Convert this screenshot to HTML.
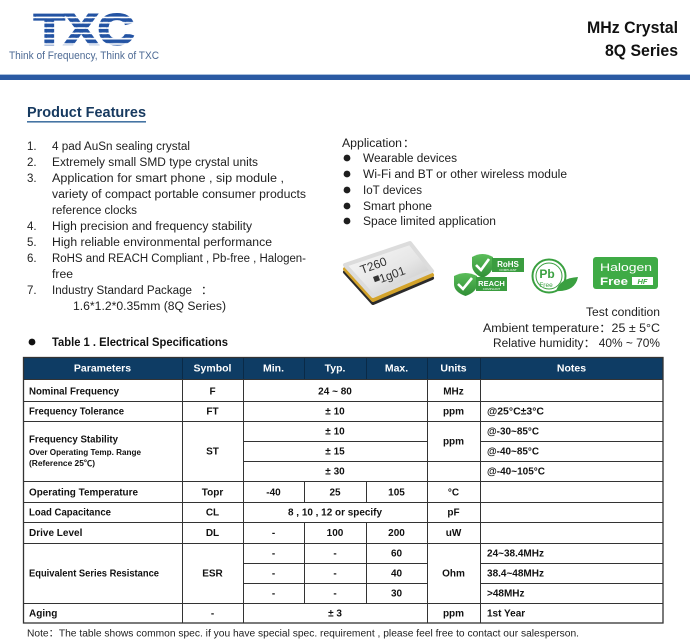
<!DOCTYPE html>
<html><head><meta charset="utf-8"><style>
html,body{margin:0;padding:0;background:#fff;width:690px;height:644px;overflow:hidden}
svg{display:block}
text{font-family:"Liberation Sans","Noto Sans CJK SC","DejaVu Sans",sans-serif}
</style></head><body>
<svg width="690" height="644" viewBox="0 0 690 644" xmlns="http://www.w3.org/2000/svg">
<defs>
<pattern id="st" patternUnits="userSpaceOnUse" x="0" y="13" width="20" height="5.3"><rect width="20" height="3.6" fill="#2353a3"/></pattern>
<linearGradient id="cg" x1="0" y1="0" x2="1" y2="1"><stop offset="0" stop-color="#fbfbfb"/><stop offset="0.55" stop-color="#e6e6e6"/><stop offset="1" stop-color="#bdbdbd"/></linearGradient>
<linearGradient id="gd" x1="0" y1="0" x2="0" y2="1"><stop offset="0" stop-color="#5bbd5a"/><stop offset="1" stop-color="#2f8f36"/></linearGradient>
</defs>

<!-- Logo -->
<text x="34" y="44" font-size="43" font-weight="bold" fill="url(#st)" stroke="url(#st)" stroke-width="2.2" textLength="100" lengthAdjust="spacingAndGlyphs">TXC</text>
<text x="9" y="59" font-size="11" fill="#4d6a94" textLength="150" lengthAdjust="spacingAndGlyphs">Think of Frequency, Think of TXC</text>

<!-- Title -->
<text x="678" y="33" font-size="17" font-weight="bold" fill="#111" text-anchor="end" textLength="91" lengthAdjust="spacingAndGlyphs">MHz Crystal</text>
<text x="678" y="56" font-size="17" font-weight="bold" fill="#111" text-anchor="end" textLength="73" lengthAdjust="spacingAndGlyphs">8Q Series</text>

<!-- Blue rule -->
<rect x="0" y="74" width="690" height="1" fill="#a9bfdc"/>
<rect x="0" y="75" width="690" height="5" fill="#2b5aa3"/>

<!-- Product Features -->
<text x="27" y="117" font-size="15" font-weight="bold" fill="#173a60" textLength="119" lengthAdjust="spacingAndGlyphs">Product Features</text>
<rect x="27" y="121" width="119" height="1.6" fill="#4574a3"/>

<!-- Feature list -->
<g font-size="11.5" fill="#1e1e1e">
<text x="27" y="150">1.</text><text x="52" y="150" textLength="138" lengthAdjust="spacingAndGlyphs">4 pad AuSn sealing crystal</text>
<text x="27" y="166">2.</text><text x="52" y="166" textLength="206" lengthAdjust="spacingAndGlyphs">Extremely small SMD type crystal units</text>
<text x="27" y="182">3.</text><text x="52" y="182" textLength="232" lengthAdjust="spacingAndGlyphs">Application for smart phone , sip module ,</text>
<text x="52" y="198" textLength="254" lengthAdjust="spacingAndGlyphs">variety of compact portable consumer products</text>
<text x="52" y="214" textLength="85" lengthAdjust="spacingAndGlyphs">reference clocks</text>
<text x="27" y="230">4.</text><text x="52" y="230" textLength="200" lengthAdjust="spacingAndGlyphs">High precision and frequency stability</text>
<text x="27" y="246">5.</text><text x="52" y="246" textLength="220" lengthAdjust="spacingAndGlyphs">High reliable environmental performance</text>
<text x="27" y="262">6.</text><text x="52" y="262" textLength="254" lengthAdjust="spacingAndGlyphs">RoHS and REACH Compliant , Pb-free , Halogen-</text>
<text x="52" y="278" textLength="21" lengthAdjust="spacingAndGlyphs">free</text>
<text x="27" y="294">7.</text><text x="52" y="294" textLength="140" lengthAdjust="spacingAndGlyphs">Industry Standard Package</text><text x="201" y="294">：</text>
<text x="73" y="310" textLength="153" lengthAdjust="spacingAndGlyphs">1.6*1.2*0.35mm (8Q Series)</text>
</g>

<!-- Table title -->
<circle cx="32" cy="342" r="3.4" fill="#111"/>
<text x="52" y="346" font-size="11.5" font-weight="bold" fill="#111" textLength="176" lengthAdjust="spacingAndGlyphs">Table 1 . Electrical Specifications</text>

<!-- Application -->
<g font-size="11.5" fill="#1e1e1e">
<text x="342" y="147" textLength="60" lengthAdjust="spacingAndGlyphs">Application</text><text x="403" y="147">：</text>
<circle cx="347" cy="158" r="3.4"/><text x="363" y="162" textLength="94" lengthAdjust="spacingAndGlyphs">Wearable devices</text>
<circle cx="347" cy="174" r="3.4"/><text x="363" y="178" textLength="204" lengthAdjust="spacingAndGlyphs">Wi-Fi and BT or other wireless module</text>
<circle cx="347" cy="190" r="3.4"/><text x="363" y="194" textLength="59" lengthAdjust="spacingAndGlyphs">IoT devices</text>
<circle cx="347" cy="206" r="3.4"/><text x="363" y="210" textLength="69" lengthAdjust="spacingAndGlyphs">Smart phone</text>
<circle cx="347" cy="221" r="3.4"/><text x="363" y="225" textLength="133" lengthAdjust="spacingAndGlyphs">Space limited application</text>
</g>

<!-- Crystal image -->
<g stroke-linejoin="round">
<polygon points="345,272 410,250 432,278 373,303" fill="#2b2b2b" stroke="#2b2b2b" stroke-width="4"/>
<polygon points="345,269 410,247 432,275 373,300" fill="#d3a32b" stroke="#d3a32b" stroke-width="4"/>
<polygon points="345,265 410,243 432,271 373,296" fill="url(#cg)" stroke="#dcdcdc" stroke-width="4"/>
</g>
<text x="0" y="0" font-size="12" fill="#333" transform="translate(362,274) rotate(-20)">T260</text>
<rect x="0" y="0" width="5.5" height="5.5" fill="#333" transform="translate(373,277) rotate(-20)"/>
<text x="0" y="0" font-size="12" fill="#333" transform="translate(381,283) rotate(-20)">1g01</text>

<!-- RoHS / REACH -->
<path d="M472,257 Q482.5,251 493,257 L493,265 Q493,273 482.5,278 Q472,273 472,265 Z" fill="url(#gd)"/>
<path d="M476,265 L481,270 L489,259" fill="none" stroke="#fff" stroke-width="2.6"/>
<rect x="492" y="258" width="32" height="14" fill="#3a9d3f"/>
<text x="508" y="267" font-size="8" font-weight="bold" fill="#fff" text-anchor="middle">RoHS</text>
<text x="508" y="271" font-size="3" fill="#fff" text-anchor="middle">COMPLIANT</text>
<path d="M454,276 Q465.5,270 477,276 L477,284 Q477,292 465.5,296 Q454,292 454,284 Z" fill="url(#gd)"/>
<path d="M458,284 L463,289 L472,278" fill="none" stroke="#fff" stroke-width="2.6"/>
<rect x="476" y="277" width="31" height="14" fill="#3a9d3f"/>
<text x="491.5" y="286" font-size="7.5" font-weight="bold" fill="#fff" text-anchor="middle">REACH</text>
<text x="491.5" y="290" font-size="3" fill="#fff" text-anchor="middle">COMPLIANT</text>

<!-- Pb free -->
<circle cx="549" cy="276" r="16.5" fill="#fff" stroke="#3aa040" stroke-width="2"/>
<circle cx="549" cy="276" r="13" fill="none" stroke="#3aa040" stroke-width="1"/>
<text x="547" y="278" font-size="12" font-weight="bold" fill="#3aa040" text-anchor="middle">Pb</text>
<text x="546" y="287" font-size="6.5" fill="#3aa040" text-anchor="middle">Free</text>
<path d="M556,291 Q560,278 578,277 Q575,292 556,291 Z" fill="#3aa040"/>

<!-- Halogen free -->
<rect x="593" y="257" width="65" height="32" rx="3" fill="#3fab46"/>
<text x="600" y="271" font-size="11" fill="#fff" textLength="52" lengthAdjust="spacingAndGlyphs">Halogen</text>
<text x="600" y="285" font-size="11" font-weight="bold" fill="#fff" textLength="28" lengthAdjust="spacingAndGlyphs">Free</text>
<rect x="632" y="277" width="21" height="8" fill="#fff"/>
<text x="642.5" y="284" font-size="7.5" font-weight="bold" font-style="italic" fill="#3fab46" text-anchor="middle">HF</text>

<!-- Test condition -->
<g font-size="11.5" fill="#1e1e1e" text-anchor="end">
<text x="660" y="316" textLength="74" lengthAdjust="spacingAndGlyphs">Test condition</text>
<text x="660" y="332" textLength="177" lengthAdjust="spacingAndGlyphs">Ambient temperature：25 ± 5°C</text>
<text x="660" y="347" textLength="167" lengthAdjust="spacingAndGlyphs">Relative humidity： 40% ~ 70%</text>
</g>

<!-- Table -->
<rect x="23" y="357" width="640" height="22" fill="#0e3c64"/>
<g stroke="#0a2a47" stroke-width="1">
<line x1="182.5" y1="357" x2="182.5" y2="379"/><line x1="243.5" y1="357" x2="243.5" y2="379"/>
<line x1="304.5" y1="357" x2="304.5" y2="379"/><line x1="366.5" y1="357" x2="366.5" y2="379"/>
<line x1="427.5" y1="357" x2="427.5" y2="379"/><line x1="480.5" y1="357" x2="480.5" y2="379"/>
</g>
<g font-size="10.5" font-weight="bold" fill="#fff" text-anchor="middle">
<text x="102.5" y="371.5">Parameters</text>
<text x="212.5" y="371.5">Symbol</text>
<text x="273.5" y="371.5">Min.</text>
<text x="335" y="371.5">Typ.</text>
<text x="396.5" y="371.5">Max.</text>
<text x="453.5" y="371.5">Units</text>
<text x="571.5" y="371.5">Notes</text>
</g>

<g stroke="#333" stroke-width="1" fill="none">
<line x1="23" y1="379.5" x2="663" y2="379.5"/>
<line x1="23" y1="401.5" x2="663" y2="401.5"/>
<line x1="23" y1="421.5" x2="663" y2="421.5"/>
<line x1="23" y1="481.5" x2="663" y2="481.5"/>
<line x1="23" y1="502.5" x2="663" y2="502.5"/>
<line x1="23" y1="522.5" x2="663" y2="522.5"/>
<line x1="23" y1="543.5" x2="663" y2="543.5"/>
<line x1="23" y1="603.5" x2="663" y2="603.5"/>
<line x1="243" y1="441.5" x2="427" y2="441.5"/><line x1="480" y1="441.5" x2="663" y2="441.5"/>
<line x1="243" y1="461.5" x2="663" y2="461.5"/>
<line x1="243" y1="563.5" x2="427" y2="563.5"/><line x1="480" y1="563.5" x2="663" y2="563.5"/>
<line x1="243" y1="583.5" x2="427" y2="583.5"/><line x1="480" y1="583.5" x2="663" y2="583.5"/>
<line x1="182.5" y1="379" x2="182.5" y2="623"/>
<line x1="243.5" y1="379" x2="243.5" y2="623"/>
<line x1="427.5" y1="379" x2="427.5" y2="623"/>
<line x1="480.5" y1="379" x2="480.5" y2="623"/>
<line x1="304.5" y1="481" x2="304.5" y2="502"/><line x1="366.5" y1="481" x2="366.5" y2="502"/>
<line x1="304.5" y1="522" x2="304.5" y2="603"/><line x1="366.5" y1="522" x2="366.5" y2="603"/>
</g>
<rect x="23.5" y="357.5" width="639.5" height="265.5" fill="none" stroke="#333" stroke-width="1.3"/>

<g font-size="10" font-weight="bold" fill="#111">
<text x="29" y="394.5" textLength="90" lengthAdjust="spacingAndGlyphs">Nominal Frequency</text>
<text x="29" y="414.5" textLength="95" lengthAdjust="spacingAndGlyphs">Frequency Tolerance</text>
<text x="29" y="442.5" textLength="89" lengthAdjust="spacingAndGlyphs">Frequency Stability</text>
<text x="29" y="455" font-size="8" textLength="112" lengthAdjust="spacingAndGlyphs">Over Operating Temp. Range</text>
<text x="29" y="466" font-size="8" textLength="66" lengthAdjust="spacingAndGlyphs">(Reference 25℃)</text>
<text x="29" y="495.5" textLength="109" lengthAdjust="spacingAndGlyphs">Operating Temperature</text>
<text x="29" y="515.5" textLength="82" lengthAdjust="spacingAndGlyphs">Load Capacitance</text>
<text x="29" y="536">Drive Level</text>
<text x="29" y="576.5" textLength="130" lengthAdjust="spacingAndGlyphs">Equivalent Series Resistance</text>
<text x="29" y="616.5">Aging</text>

<g text-anchor="middle">
<text x="212.5" y="394.5">F</text>
<text x="212.5" y="414.5">FT</text>
<text x="212.5" y="454.5">ST</text>
<text x="212.5" y="495.5">Topr</text>
<text x="212.5" y="515.5">CL</text>
<text x="212.5" y="536">DL</text>
<text x="212.5" y="576.5">ESR</text>
<text x="212.5" y="616.5">-</text>

<text x="335" y="394.5">24 ~ 80</text>
<text x="335" y="414.5">± 10</text>
<text x="335" y="434.5">± 10</text>
<text x="335" y="454.5">± 15</text>
<text x="335" y="474.5">± 30</text>
<text x="273.5" y="495.5">-40</text>
<text x="335" y="495.5">25</text>
<text x="396.5" y="495.5">105</text>
<text x="335" y="515.5" textLength="94" lengthAdjust="spacingAndGlyphs">8 , 10 , 12 or specify</text>
<text x="273.5" y="536">-</text>
<text x="335" y="536">100</text>
<text x="396.5" y="536">200</text>
<text x="273.5" y="556.5">-</text><text x="335" y="556.5">-</text><text x="396.5" y="556.5">60</text>
<text x="273.5" y="576.5">-</text><text x="335" y="576.5">-</text><text x="396.5" y="576.5">40</text>
<text x="273.5" y="596.5">-</text><text x="335" y="596.5">-</text><text x="396.5" y="596.5">30</text>
<text x="335" y="616.5">± 3</text>

<text x="453.5" y="394.5">MHz</text>
<text x="453.5" y="414.5">ppm</text>
<text x="453.5" y="444.5">ppm</text>
<text x="453.5" y="495.5">°C</text>
<text x="453.5" y="515.5">pF</text>
<text x="453.5" y="536">uW</text>
<text x="453.5" y="576.5">Ohm</text>
<text x="453.5" y="616.5">ppm</text>
</g>

<text x="487" y="414.5" textLength="57" lengthAdjust="spacingAndGlyphs">@25°C±3°C</text>
<text x="487" y="434.5" textLength="52" lengthAdjust="spacingAndGlyphs">@-30~85°C</text>
<text x="487" y="454.5" textLength="52" lengthAdjust="spacingAndGlyphs">@-40~85°C</text>
<text x="487" y="474.5" textLength="58" lengthAdjust="spacingAndGlyphs">@-40~105°C</text>
<text x="487" y="556.5" textLength="57" lengthAdjust="spacingAndGlyphs">24~38.4MHz</text>
<text x="487" y="576.5" textLength="57" lengthAdjust="spacingAndGlyphs">38.4~48MHz</text>
<text x="487" y="596.5">&gt;48MHz</text>
<text x="487" y="616.5">1st Year</text>
</g>

<text x="27" y="636.5" font-size="10" fill="#222" textLength="552" lengthAdjust="spacingAndGlyphs">Note：The table shows common spec. if you have special spec. requirement , please feel free to contact our salesperson.</text>
</svg>
</body></html>
